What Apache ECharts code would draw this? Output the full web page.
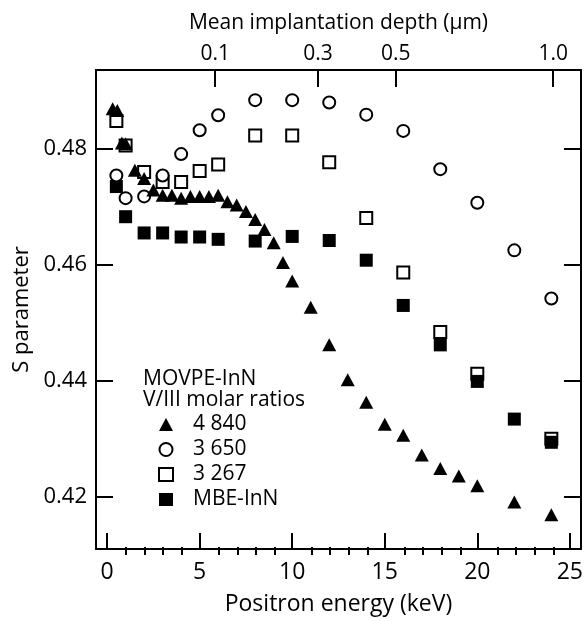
<!DOCTYPE html>
<html><head><meta charset="utf-8">
<script src="https://cdn.jsdelivr.net/npm/echarts@6/dist/echarts.min.js"></script>
<style>html,body{margin:0;padding:0;background:#fff}#c{width:586px;height:621px}</style>
</head><body><div id="c"></div>
<script>
// ---- data ----
const seriesNames = ['4 840', '3 650', '3 267', 'MBE-InN'];

const energy4840 = [0.3, 0.55, 0.8, 1.0, 1.5, 2.0, 2.5, 3.0, 3.5, 4.0, 4.5, 5.0, 5.5, 6.0, 6.5, 7.0, 7.5, 8.0, 8.5, 9.0, 9.5, 10, 11, 12, 13, 14, 15, 16, 17, 18, 19, 20, 22, 24];
const s4840 = [0.4869, 0.4866, 0.4810, 0.4809, 0.4763, 0.4749, 0.4729, 0.4720, 0.4720, 0.4715, 0.4718, 0.4718, 0.4718, 0.4720, 0.4709, 0.4703, 0.4692, 0.4678, 0.4661, 0.4638, 0.4604, 0.4572, 0.4527, 0.4462, 0.4402, 0.4363, 0.4325, 0.4306, 0.4272, 0.4249, 0.4236, 0.4219, 0.4191, 0.4169];

const energy3650 = [0.5, 1, 2, 3, 4, 5, 6, 8, 10, 12, 14, 16, 18, 20, 22, 24];
const s3650 = [0.4754, 0.4715, 0.4718, 0.4754, 0.4791, 0.4832, 0.4858, 0.4884, 0.4884, 0.4880, 0.4859, 0.4831, 0.4765, 0.4707, 0.4625, 0.4542];

const energy3267 = [0.5, 1, 2, 3, 4, 5, 6, 8, 10, 12, 14, 16, 18, 20, 24];
const s3267 = [0.4848, 0.4806, 0.4760, 0.4743, 0.4743, 0.4762, 0.4773, 0.4823, 0.4823, 0.4777, 0.4681, 0.4587, 0.4484, 0.4412, 0.4300];

const energyMBE = [0.5, 1, 2, 3, 4, 5, 6, 8, 10, 12, 14, 16, 18, 20, 22, 24];
const sMBE = [0.4735, 0.4683, 0.4655, 0.4655, 0.4648, 0.4648, 0.4644, 0.4641, 0.4649, 0.4642, 0.4608, 0.4530, 0.4462, 0.4399, 0.4334, 0.4294];

const xMajorTicks = [0, 5, 10, 15, 20, 25];
const xMinorTicks = [1, 2, 3, 4, 6, 7, 8, 9, 11, 12, 13, 14, 16, 17, 18, 19, 21, 22, 23, 24];
const yTicks = [0.42, 0.44, 0.46, 0.48];
const depthLabels = ['0.1', '0.3', '0.5', '1.0'];
const depthTickEnergy = [5.84, 11.39, 15.59, 24.1];

const X_MIN = -0.6, X_MAX = 25.6, Y_MIN = 0.411, Y_MAX = 0.4936;

// ---- chart ----
const FONT = 'Open Sans';
const zip = (a, b) => a.map((v, i) => [v, b[i]]);
const lineStyle = { color: '#000', width: 2 };
const gridRect = { left: 96, right: 3, top: 70, bottom: 66 };
const txt = (fs) => ({ fontSize: fs, fontFamily: FONT, color: '#000' });

const chart = echarts.init(document.getElementById('c'), null, { renderer: 'canvas' });
chart.setOption({
  animation: false,
  backgroundColor: '#fff',
  textStyle: { fontFamily: FONT, color: '#000' },
  grid: [Object.assign({ containLabel: false }, gridRect), Object.assign({ containLabel: false }, gridRect)],
  xAxis: [
    {
      type: 'value', gridIndex: 0, position: 'bottom', min: X_MIN, max: X_MAX,
      axisLine: { show: true, onZero: false, lineStyle },
      axisTick: { show: true, inside: true, length: 16, customValues: xMajorTicks, lineStyle },
      axisLabel: Object.assign({ show: true, customValues: xMajorTicks, margin: 12 }, txt(23)),
      splitLine: { show: false },
      name: 'Positron energy (keV)', nameLocation: 'middle', nameGap: 44,
      nameTextStyle: txt(23)
    },
    {
      type: 'value', gridIndex: 0, position: 'top', min: X_MIN, max: X_MAX,
      axisLine: { show: true, onZero: false, lineStyle },
      axisTick: { show: true, inside: true, length: 17, customValues: depthTickEnergy, lineStyle },
      axisLabel: Object.assign({
        show: true, customValues: depthTickEnergy, margin: 5,
        formatter: v => { const i = depthTickEnergy.findIndex(e => Math.abs(e - v) < 1e-6); return i >= 0 ? depthLabels[i] : ''; }
      }, txt(21)),
      splitLine: { show: false },
      name: 'Mean implantation depth (µm)', nameLocation: 'middle', nameGap: 36,
      nameTextStyle: txt(21)
    },
    {
      type: 'value', gridIndex: 1, position: 'bottom', min: X_MIN, max: X_MAX,
      axisLine: { show: false, onZero: false },
      axisTick: { show: true, inside: true, length: 8, customValues: xMinorTicks, lineStyle },
      axisLabel: { show: false },
      splitLine: { show: false }
    }
  ],
  yAxis: [
    {
      type: 'value', gridIndex: 0, position: 'left', min: Y_MIN, max: Y_MAX,
      axisLine: { show: true, onZero: false, lineStyle },
      axisTick: { show: true, inside: true, length: 17, customValues: yTicks, lineStyle },
      axisLabel: Object.assign({ show: true, customValues: yTicks, margin: 9, formatter: v => v.toFixed(2) }, txt(22)),
      splitLine: { show: false },
      name: 'S parameter', nameLocation: 'middle', nameGap: 61,
      nameTextStyle: txt(22)
    },
    {
      type: 'value', gridIndex: 0, position: 'right', min: Y_MIN, max: Y_MAX,
      axisLine: { show: true, onZero: false, lineStyle },
      axisTick: { show: true, inside: true, length: 17, customValues: yTicks, lineStyle },
      axisLabel: { show: false },
      splitLine: { show: false }
    },
    {
      type: 'value', gridIndex: 1, min: Y_MIN, max: Y_MAX, show: false
    }
  ],
  legend: {
    orient: 'vertical', left: 153, top: 409,
    itemWidth: 14, itemHeight: 13, itemGap: 4,
    data: [seriesNames[0], seriesNames[1], seriesNames[2], seriesNames[3]],
    textStyle: Object.assign({ lineHeight: 21, padding: [0, 0, 0, 15] }, txt(21))
  },
  graphic: [
    { type: 'text', left: 143, top: 369, style: { text: 'MOVPE-InN', font: '21px "' + FONT + '"', fill: '#000' } },
    { type: 'text', left: 143, top: 390, style: { text: 'V/III molar ratios', font: '21px "' + FONT + '"', fill: '#000' } }
  ],
  series: [
    {
      name: seriesNames[2], type: 'scatter', xAxisIndex: 0, yAxisIndex: 0,
      symbol: 'rect', symbolSize: 12,
      itemStyle: { color: '#fff', borderColor: '#000', borderWidth: 2, opacity: 1 },
      data: zip(energy3267, s3267)
    },
    {
      name: seriesNames[3], type: 'scatter', xAxisIndex: 0, yAxisIndex: 0,
      symbol: 'rect', symbolSize: 13,
      itemStyle: { color: '#000', opacity: 1 },
      data: zip(energyMBE, sMBE)
    },
    {
      name: seriesNames[1], type: 'scatter', xAxisIndex: 0, yAxisIndex: 0,
      symbol: 'circle', symbolSize: 12,
      itemStyle: { color: '#fff', borderColor: '#000', borderWidth: 2, opacity: 1 },
      data: zip(energy3650, s3650)
    },
    {
      name: seriesNames[0], type: 'scatter', xAxisIndex: 0, yAxisIndex: 0,
      symbol: 'triangle', symbolSize: [14, 13],
      itemStyle: { color: '#000', opacity: 1 },
      data: zip(energy4840, s4840)
    }
  ]
});
</script>
</body></html>
